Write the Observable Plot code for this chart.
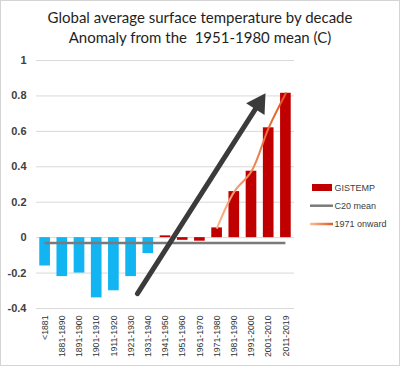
<!DOCTYPE html>
<html><head><meta charset="utf-8">
<script src="https://cdn.jsdelivr.net/npm/d3@7"></script>
<script src="https://cdn.jsdelivr.net/npm/@observablehq/plot@0.6"></script>
<style>
html,body{margin:0;padding:0;background:#fff;}
#chart{position:relative;width:400px;height:366px;}
</style></head><body><div id="chart"></div>
<script>
// ---- data ----
const decades = ["<1881","1881-1890","1891-1900","1901-1910","1911-1920","1921-1930","1931-1940","1941-1950","1951-1960","1961-1970","1971-1980","1981-1990","1991-2000","2001-2010","2011-2019"];
const anomalies = [-0.16,-0.22,-0.20,-0.34,-0.30,-0.22,-0.09,0.01,-0.015,-0.02,0.055,0.26,0.375,0.62,0.815];
const c20Mean = -0.03;
const redFrom = "1941-1950";
const onwardFrom = "1971-1980";
const yTicks = [-0.4,-0.2,0,0.2,0.4,0.6,0.8,1];
const titleLines = ["Global average surface temperature by decade","Anomaly from the  1951-1980 mean (C)"];
const legendLabels = ["GISTEMP","C20 mean","1971 onward"];
// trend arrow annotation (x in decade-index units, y in °C)
const arrowShaft = [{pos:5.87, value:-0.316},{pos:12.92, value:0.755}];
const arrowHead = [{pos:12.92, value:0.755, angle:32.6}];

const blue = "#12b4f2", red = "#c00000", gray = "#7a7a7a", dark = "#3b3b3b";
const data = decades.map((d,i)=>({decade:d, i, value:anomalies[i]}));
const redIdx = decades.indexOf(redFrom);
const onward = data.filter(d => d.i >= decades.indexOf(onwardFrom));

const plot = Plot.plot({
  width:400, height:366,
  marginTop:60, marginBottom:58, marginLeft:36, marginRight:106,
  style:{fontFamily:"'Liberation Sans', Arial, sans-serif", background:"transparent", overflow:"visible"},
  x:{type:"linear", domain:[0, decades.length], axis:null, label:null},
  y:{domain:[-0.4,1], axis:null, label:null},
  marks:[
    Plot.gridY(yTicks,{stroke:"#d9d9d9", strokeOpacity:1, strokeWidth:1}),
    Plot.axisY(yTicks,{label:null, tickSize:0, tickPadding:10, tickFormat:d=>String(+d.toFixed(1)), fontSize:11, fontWeight:"bold", fill:"#404040"}),
    Plot.axisX(data.map(d=>d.i+0.5),{label:null, tickSize:0, tickPadding:7, tickRotate:-90, tickFormat:t=>decades[Math.floor(t)], fontSize:8.7, fill:"#333"}),
    Plot.rectY(data,{x1:d=>d.i+0.19, x2:d=>d.i+0.81, y1:d=>0, y2:"value", fill:d=>d.i>=redIdx?red:blue}),
    Plot.ruleY([c20Mean],{x1:0.5, x2:decades.length-0.5, stroke:gray, strokeWidth:2.5}),
    Plot.line(onward,{x:d=>d.i+0.5, y:"value", stroke:"#f08040", strokeWidth:2, curve:"catmull-rom", className:"onward"}),
    Plot.line(arrowShaft,{x:"pos", y:"value", stroke:dark, strokeWidth:5, strokeLinecap:"round"}),
    Plot.dot(arrowHead,{x:"pos", y:"value", symbol:"triangle", r:8.1, fill:dark, stroke:"none", rotate:"angle"})
  ]
});
document.getElementById("chart").appendChild(plot);

const svg = d3.select(plot);
const defs = svg.insert("defs",":first-child");
const g = defs.append("linearGradient").attr("id","og").attr("x1",0).attr("y1",1).attr("x2",1).attr("y2",0);
g.append("stop").attr("offset","0%").attr("stop-color","#f8b68a");
g.append("stop").attr("offset","100%").attr("stop-color","#e4561f");
const gl = defs.append("linearGradient").attr("id","ogl").attr("gradientUnits","userSpaceOnUse")
  .attr("x1",310).attr("y1",0).attr("x2",333).attr("y2",0);
gl.append("stop").attr("offset","0%").attr("stop-color","#f8c09a");
gl.append("stop").attr("offset","100%").attr("stop-color","#e4561f");
svg.selectAll(".onward, .onward path").attr("stroke","url(#og)");

// border
svg.append("rect").attr("x",0.5).attr("y",0.5).attr("width",399).attr("height",365)
  .attr("fill","none").attr("stroke","#d4d4d4");

// title
svg.append("g").attr("text-anchor","middle").selectAll("text").data(titleLines).join("text")
  .attr("x",200).attr("y",(d,i)=>23+i*20)
  .attr("font-family","Lato, 'Open Sans', sans-serif").attr("font-size",15).attr("fill","#1f1f1f")
  .style("white-space","pre").text(d=>d);

// legend
const lg = svg.append("g").attr("text-anchor","start").attr("font-family","'Liberation Sans', Arial, sans-serif").attr("font-size",9).attr("fill","#404040");
const rows = [187.5, 205.7, 224];
lg.append("rect").attr("x",312).attr("y",rows[0]-3.5).attr("width",20).attr("height",7).attr("fill",red);
lg.append("line").attr("x1",310).attr("x2",333).attr("y1",rows[1]).attr("y2",rows[1]).attr("stroke",gray).attr("stroke-width",2.5);
lg.append("line").attr("x1",310).attr("x2",333).attr("y1",rows[2]).attr("y2",rows[2]).attr("stroke","url(#ogl)").attr("stroke-width",2.5);
lg.selectAll("text").data(legendLabels).join("text")
  .attr("x",334.5).attr("y",(d,i)=>rows[i]).attr("dy","0.35em").text(d=>d);
</script></body></html>
